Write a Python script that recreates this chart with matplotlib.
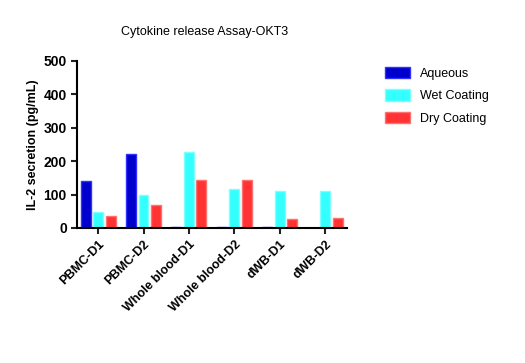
import numpy as np
import matplotlib
matplotlib.use('Agg')
import matplotlib.pyplot as plt

plt.rcParams['font.family'] = ['Liberation Sans', 'DejaVu Sans']

# Data
groups = ['PBMC-D1', 'PBMC-D2', 'Whole blood-D1', 'Whole blood-D2', 'dWB-D1', 'dWB-D2']
aqueous = [140, 220, 2, 2, 2, 0]
wet_coating = [48, 100, 228, 118, 110, 112]
dry_coating = [37, 68, 143, 145, 28, 31]

series = [
    ('Aqueous', aqueous, '#0000cc', '#3030ff'),
    ('Wet Coating', wet_coating, '#33ffff', '#80ffff'),
    ('Dry Coating', dry_coating, '#ff3333', '#ff7070'),
]

fig = plt.figure(figsize=(5.25, 3.63), dpi=100)
ax = fig.add_axes([0.147, 0.372, 0.514, 0.46])

x = np.arange(len(groups))
width = 0.22
step = 0.275
for i, (name, vals, fc, ec) in enumerate(series):
    ax.bar(x + (i - 1) * step, vals, width, color=fc, edgecolor=ec,
           linewidth=1, label=name)

ax.set_xlim(-0.46, 5.48)
ax.set_ylim(0, 500)
ax.set_yticks([0, 100, 200, 300, 400, 500])
ax.set_xticks(x)
ax.set_xticklabels(groups, rotation=45, ha='right', rotation_mode='anchor',
                   fontsize=9, fontweight='bold')
for lbl in ax.get_yticklabels():
    lbl.set_fontweight('bold')
    lbl.set_fontsize(10)
ax.tick_params(direction='out', width=1.5, length=4, color='#222222')
ax.spines['top'].set_visible(False)
ax.spines['right'].set_visible(False)
ax.spines['left'].set_linewidth(1.5)
ax.spines['bottom'].set_linewidth(1.5)

ax.set_ylabel('IL-2 secretion (pg/mL)', fontsize=9, fontweight='bold', labelpad=3)
fig.text(0.39, 0.912, 'Cytokine release Assay-OKT3', fontsize=9,
         ha='center', va='center')

ax.legend(loc='upper left', bbox_to_anchor=(1.1, 1.03), frameon=False,
          fontsize=9, handlelength=2.0, handleheight=1.0, labelspacing=0.75)

fig.savefig('out.png', dpi=100)
